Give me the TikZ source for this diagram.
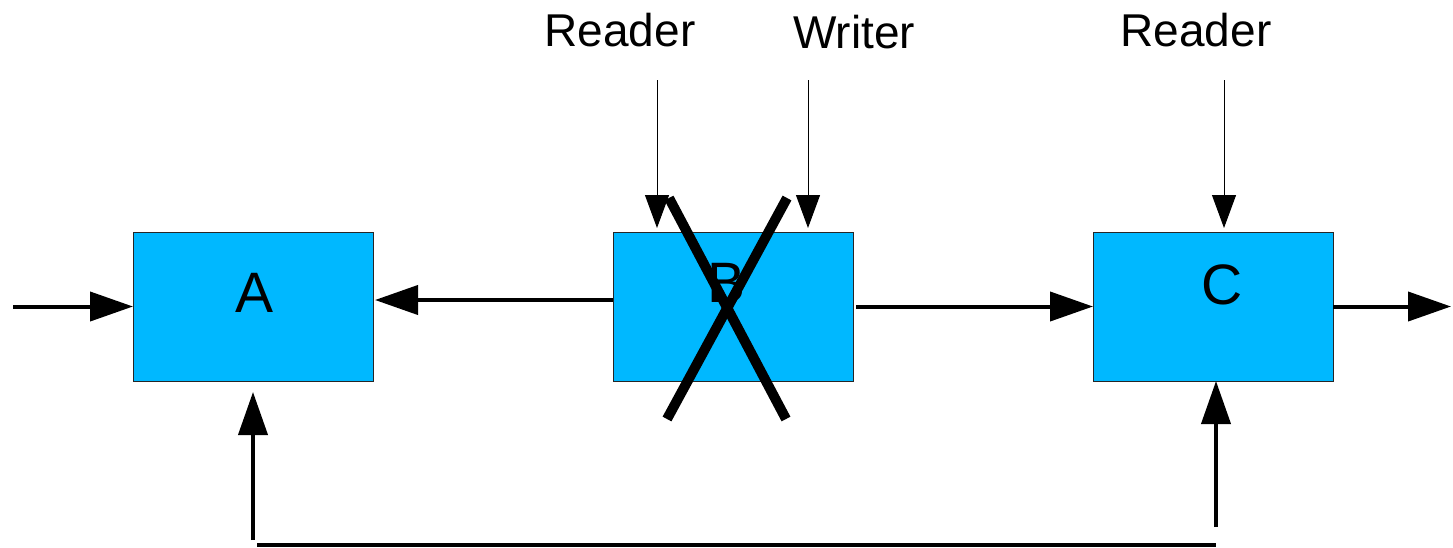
\documentclass[tikz,border=0pt]{standalone}
\usepackage{fontspec}
\setmainfont{Liberation Sans}
\usetikzlibrary{arrows.meta}
\definecolor{boxblue}{RGB}{0,184,255}
\tikzset{
  blk/.style={draw=black!85, line width=1pt, fill=boxblue, minimum width=240pt, minimum height=149pt, inner sep=0pt, outer sep=0pt},
  bigtxt/.style={font=\fontsize{57}{60}\selectfont, anchor=base, inner sep=0pt},
  toptxt/.style={font=\fontsize{46}{50}\selectfont, anchor=base, inner sep=0pt},
  arr/.style={line width=4pt, -{Triangle[length=43pt,width=29pt]}},
  thinarr/.style={line width=1pt, -{Triangle[length=33pt,width=24pt]}},
  plain/.style={line width=4pt},
  cross/.style={line width=10pt}
}
\begin{document}
\begin{tikzpicture}[x=1pt,y=-1pt]
\useasboundingbox (0,0) rectangle (1453,547);
% boxes
\node[blk] (A) at (253,306.5) {};
\node[blk] (B) at (733,306.5) {};
\node[blk] (C) at (1213,306.5) {};
% box labels
\node[bigtxt] (la) at (255,312) {A};
\node[bigtxt] (lb) at (726,302) {B};
\node[bigtxt] (lc) at (1222,304) {C};
% top labels
\node[toptxt] (r1) at (620,46) {Reader};
\node[toptxt] (w1) at (854,48) {Writer};
\node[toptxt] (r2) at (1196,46) {Reader};
% free ends
\coordinate (ain) at (13,306.5);
\coordinate (cout) at (1451,306.5);
\coordinate (r1s) at (657,80);
\coordinate (w1s) at (808,80);
\coordinate (r2s) at (1224,80);
\coordinate (cb) at (1216,527);
\coordinate (ab) at (253,540);
\coordinate (bl) at (257,545);
\coordinate (br) at (1216,545);
% connectors
\draw[arr] (ain) -- (A.west);
\draw[arr] ([yshift=6.5pt]B.west) -- ([yshift=6.5pt,xshift=2pt]A.east);
\draw[arr] ([xshift=3pt]B.east) -- (C.west);
\draw[arr] (C.east) -- (cout);
\draw[arr] (cb) -- ([xshift=3pt]C.south);
\draw[arr] (ab) -- ([yshift=-11pt]A.south);
\draw[plain] (bl) -- (br);
\draw[thinarr] (r1s) -- ([yshift=4pt]B.north -| r1s);
\draw[thinarr] (w1s) -- ([yshift=4pt]B.north -| w1s);
\draw[thinarr] (r2s) -- ([yshift=4pt]C.north -| r2s);
% cross
\coordinate (x1) at (669,198);
\coordinate (x2) at (786,419);
\coordinate (x3) at (787,198);
\coordinate (x4) at (667,419);
\draw[cross] (x1) -- (x2);
\draw[cross] (x3) -- (x4);
\end{tikzpicture}
\end{document}
